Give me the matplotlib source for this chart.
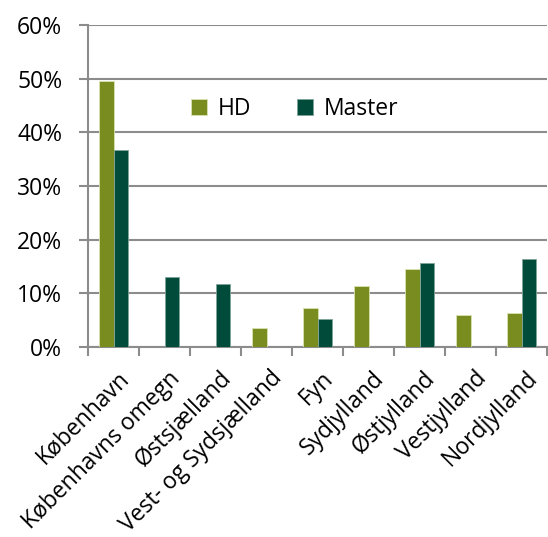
import matplotlib.pyplot as plt
import matplotlib.transforms as mtransforms
import numpy as np
from matplotlib.ticker import FuncFormatter, FixedLocator

plt.rcParams['font.family'] = ['Open Sans', 'DejaVu Sans']

regions = ["København", "Københavns omegn", "Østsjælland", "Vest- og Sydsjælland",
           "Fyn", "Sydjylland", "Østjylland", "Vestjylland", "Nordjylland"]
hd = [49.6, 0, 0, 3.6, 7.3, 11.3, 14.6, 6.0, 6.4]
master = [36.8, 13.0, 11.8, 0, 5.2, 0, 15.7, 0, 16.4]

hd_color = "#788C20"
master_color = "#004B3A"
grid_color = "#8C8C8C"

fig = plt.figure(figsize=(5.48, 5.37), dpi=100)
ax = fig.add_axes([88 / 548, 1 - 347 / 537, 459 / 548, 322 / 537])

x = np.arange(len(regions))
w = 0.29
ax.bar(x - w / 2, hd, w, color=hd_color, edgecolor="#D8E3B0", linewidth=0.6, label="HD", zorder=3)
ax.bar(x + w / 2, master, w, color=master_color, edgecolor="#7FA59A", linewidth=0.6, label="Master", zorder=3)

ax.set_xlim(-0.5, len(regions) - 0.5)
ax.set_ylim(0, 60)
ax.set_yticks(range(0, 61, 10))
ax.yaxis.set_major_formatter(FuncFormatter(lambda v, p: f"{v:.0f}%"))
ax.grid(axis="y", color=grid_color, linewidth=1.5, zorder=0)

ax.set_xticks(x)
ax.set_xticklabels(regions, rotation=45, ha="right", rotation_mode="anchor")
ax.xaxis.set_minor_locator(FixedLocator(np.arange(-0.5, len(regions), 1.0)))
ax.tick_params(axis="x", which="major", length=0, pad=14, labelsize=16.5)
ax.tick_params(axis="x", which="minor", length=6.5, color=grid_color, width=1.5)
ax.tick_params(axis="y", length=6.5, color=grid_color, width=1.5, labelsize=16.5, pad=12)

# nudge the rotated category labels a little to the right
shift = mtransforms.ScaledTranslation(4 / 100, 0, fig.dpi_scale_trans)
for lbl in ax.get_xticklabels():
    lbl.set_transform(lbl.get_transform() + shift)

for side in ["top", "right"]:
    ax.spines[side].set_visible(False)
for side in ["left", "bottom"]:
    ax.spines[side].set_color(grid_color)
    ax.spines[side].set_linewidth(1.5)

ax.legend(loc="center left", bbox_to_anchor=(0.18, 0.74), ncol=2, frameon=False,
          fontsize=16.5, handlelength=0.7, handleheight=0.7, columnspacing=2.0,
          handletextpad=0.45)

fig.savefig("out.png", dpi=100)
